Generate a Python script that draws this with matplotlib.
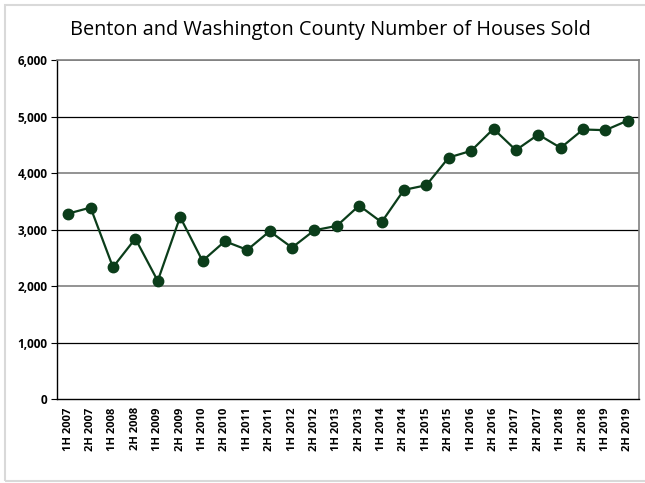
import matplotlib
matplotlib.use("Agg")
import matplotlib.pyplot as plt
from matplotlib.patches import Rectangle
from matplotlib.ticker import FuncFormatter, MultipleLocator

# ── Data ──────────────────────────────────────────────
periods = [f"{h} {y}" for y in range(2007, 2020) for h in ("1H", "2H")]
houses_sold = [3282, 3388, 2332, 2839, 2090, 3223, 2444, 2792, 2639, 2969,
               2680, 2987, 3064, 3424, 3129, 3701, 3784, 4274, 4392, 4782,
               4404, 4681, 4445, 4770, 4758, 4929]

GREEN = "#0b3d1a"
plt.rcParams["font.family"] = ["Open Sans", "DejaVu Sans"]

fig = plt.figure(figsize=(6.45, 4.83), dpi=100)
fig.patches.append(Rectangle((5 / 645, 2 / 483), 1.0, 476 / 483,
                             transform=fig.transFigure, fill=False,
                             edgecolor="#d9d9d9", linewidth=1.5))

ax = fig.add_axes([57 / 645, 84 / 483, 582 / 645, 339 / 483])
x = list(range(len(periods)))

# gridlines (alternating shades, like the source render)
for v in range(1000, 7000, 1000):
    ax.axhline(v, color="#808080" if v % 2000 == 0 else "black",
               linewidth=1.2 if v % 2000 == 0 else 0.9, zorder=1)

ax.plot(x, houses_sold, color=GREEN, linewidth=1.6, marker="o",
        markersize=7.5, markerfacecolor=GREEN, markeredgecolor=GREEN, zorder=3)

ax.set_xlim(-0.5, len(periods) - 0.5)
ax.set_ylim(0, 6000)
ax.yaxis.set_major_locator(MultipleLocator(1000))
ax.yaxis.set_major_formatter(FuncFormatter(lambda v, _: f"{int(v):,}"))
ax.set_xticks(x)
ax.set_xticklabels(periods, rotation=90, fontsize=8, fontweight="bold")
for lbl in ax.get_yticklabels():
    lbl.set_fontsize(8.5)
    lbl.set_fontweight("bold")
ax.tick_params(axis="x", length=0, pad=6)
ax.tick_params(axis="y", length=4, width=0.8, pad=3)

for side in ("top", "right"):
    ax.spines[side].set_color("#808080")
    ax.spines[side].set_linewidth(1.2)
for side in ("left", "bottom"):
    ax.spines[side].set_color("black")
    ax.spines[side].set_linewidth(1.0)

fig.text(330 / 645, 1 - 30 / 483, "Benton and Washington County Number of Houses Sold",
         ha="center", va="center", fontsize=14.3)

fig.savefig("out.png", dpi=100)
